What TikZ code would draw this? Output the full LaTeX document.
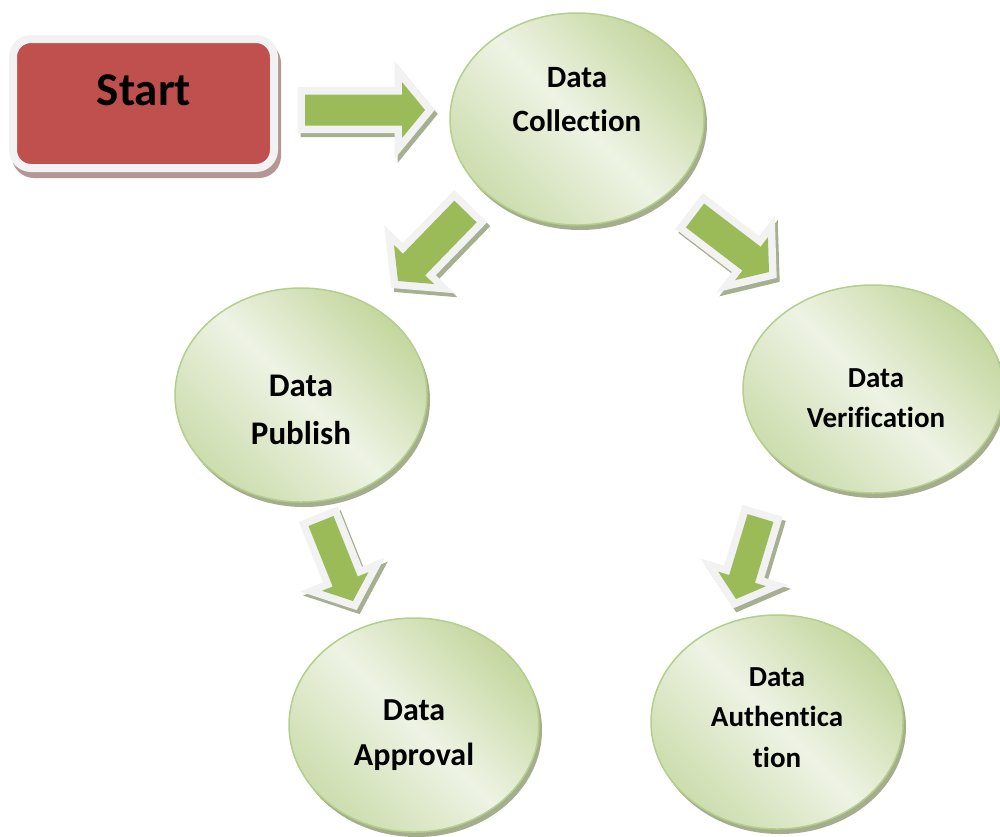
\documentclass[tikz,border=0pt]{standalone}
\usepackage{fontspec}
\setmainfont{Carlito}[Ligatures={NoCommon,NoDiscretionary,NoContextual}]
\usetikzlibrary{calc,shapes.geometric}
\definecolor{arrgreen}{HTML}{9BBB59}
\definecolor{arroutline}{HTML}{F2F2F2}
\definecolor{arrshadow}{HTML}{A6AF90}
\definecolor{startred}{HTML}{C0504D}
\definecolor{startshadow}{HTML}{B69595}
\definecolor{ellborder}{HTML}{B5CE8B}
\definecolor{ellshadow}{HTML}{A4AD8C}
\definecolor{elldark}{HTML}{C4D79F}
\definecolor{elldarktwo}{HTML}{CCDDAE}
\definecolor{elllight}{HTML}{EEF3E4}
\tikzset{
  blockarr/.style n args={3}{
    to path={
      ($(\tikztostart)!#1!90:(\tikztotarget)$) --
      ($(\tikztotarget)!#3!(\tikztostart)!#1!90:(\tikztotarget)$) --
      ($(\tikztotarget)!#3!(\tikztostart)!#2!90:(\tikztotarget)$) --
      (\tikztotarget) --
      ($(\tikztotarget)!#3!(\tikztostart)!#2!-90:(\tikztotarget)$) --
      ($(\tikztotarget)!#3!(\tikztostart)!#1!-90:(\tikztotarget)$) --
      ($(\tikztostart)!#1!-90:(\tikztotarget)$) -- cycle
    }
  },
  arrowdraw/.style={fill=arrgreen, line join=miter,
    preaction={draw=arrshadow, fill=arrshadow, line width=15pt, line join=miter,
      transform canvas={shift={(3pt,-4pt)}}},
    preaction={draw=arroutline, line width=15pt, line join=miter}},
  ellnode/.style={ellipse, draw=ellborder, line width=1.5pt, inner sep=0pt,
    top color=elldark, bottom color=elldarktwo, middle color=elllight, shading angle=-45,
    preaction={fill=ellshadow, transform canvas={shift={(3pt,-5pt)}}}},
  startbox/.style={rectangle, rounded corners=18pt, draw=arroutline, line width=8pt,
    fill=startred, inner sep=0pt,
    preaction={draw=startshadow, fill=startshadow, line width=8pt,
      transform canvas={shift={(3pt,-6pt)}}}},
  lbl/.style={align=center, text=black, inner sep=0pt}
}
\begin{document}
\begin{tikzpicture}[x=1pt,y=-1pt]
\useasboundingbox (0,0) rectangle (1000,836);
% start box
\node[startbox, minimum width=261pt, minimum height=129pt,
  label={[lbl, font=\fontsize{47}{56}\selectfont\bfseries, xshift=0.5pt, yshift=13.5pt]center:Start}]
  (start) at (143.5,103.5) {};
% ellipses
\node[ellnode, minimum width=254pt, minimum height=212pt,
  label={[lbl, font=\fontsize{31}{44}\selectfont\bfseries, yshift=19pt]center:Data\\Collection}]
  (coll) at (577,119) {};
\node[ellnode, minimum width=252pt, minimum height=214pt,
  label={[lbl, font=\fontsize{33}{48}\selectfont\bfseries, yshift=-15pt]center:Data\\Publish}]
  (pub) at (301,395) {};
\node[ellnode, minimum width=260pt, minimum height=208pt,
  label={[lbl, font=\fontsize{29}{40}\selectfont\bfseries, xshift=3pt, yshift=-9pt]center:Data\\Verification}]
  (ver) at (873,389) {};
\node[ellnode, minimum width=250pt, minimum height=214pt,
  label={[lbl, font=\fontsize{32}{45}\selectfont\bfseries, yshift=-10pt]center:Data\\Approval}]
  (appr) at (414,725) {};
\node[ellnode, minimum width=252pt, minimum height=214pt,
  label={[lbl, font=\fontsize{29}{40.5}\selectfont\bfseries, yshift=4.5pt]center:Data\\Authentica\\tion}]
  (auth) at (777,722) {};
% arrow end points
\coordinate (a1t) at (305,110);   \coordinate (a1h) at (425,110);
\coordinate (a2t) at (465.5,211.5); \coordinate (a2h) at (398,281);
\coordinate (a3t) at (695,215.5); \coordinate (a3h) at (769,272);
\coordinate (a4t) at (321,521);   \coordinate (a4h) at (353,601);
\coordinate (a5t) at (760.5,518); \coordinate (a5h) at (736,599);
% block arrows
\path[arrowdraw, blockarr={15.5pt}{28pt}{23pt}] (a1t) to (a1h);
\path[arrowdraw, blockarr={15.5pt}{28pt}{23pt}] (a2t) to (a2h);
\path[arrowdraw, blockarr={15pt}{27pt}{22pt}] (a3t) to (a3h);
\path[arrowdraw, blockarr={13.5pt}{25pt}{21pt}] (a4t) to (a4h);
\path[arrowdraw, blockarr={13.5pt}{25pt}{21pt}] (a5t) to (a5h);
\end{tikzpicture}
\end{document}
